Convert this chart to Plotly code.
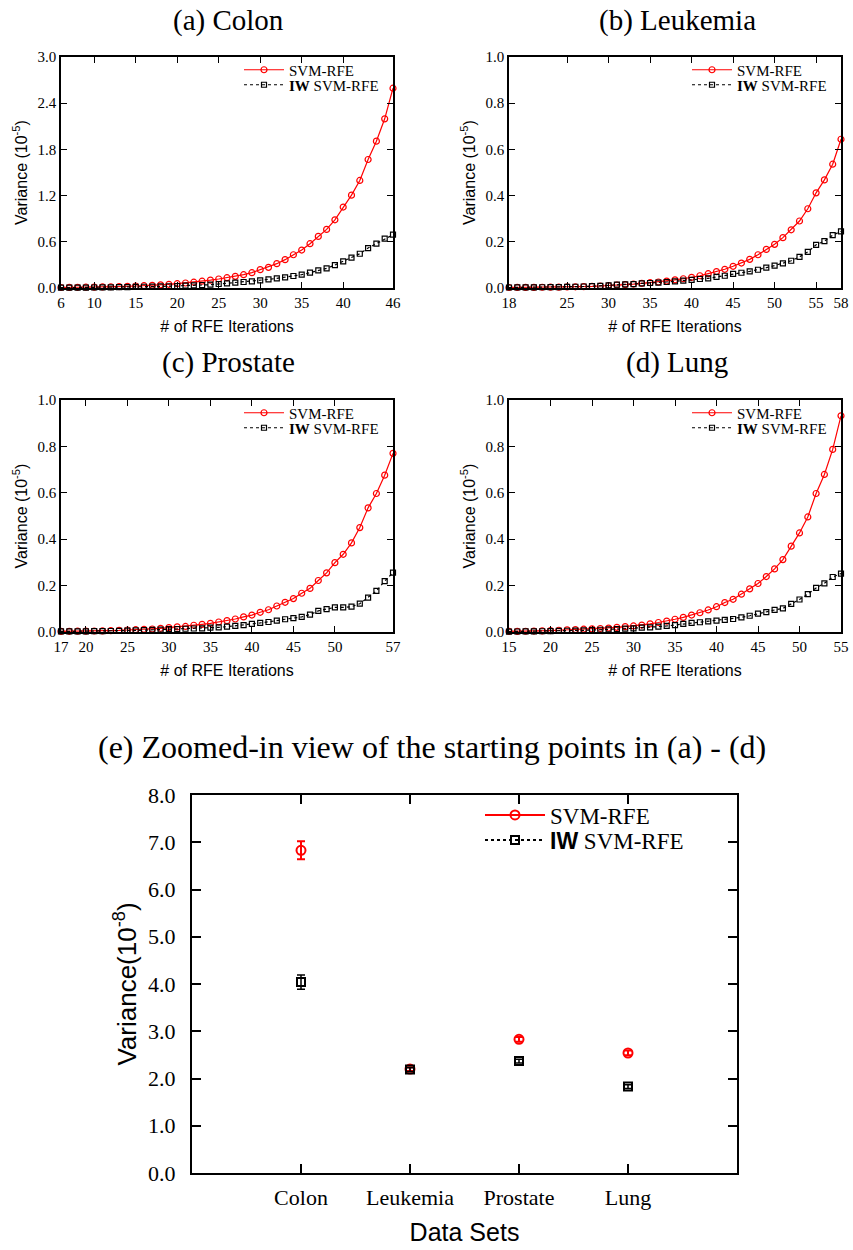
import plotly.graph_objects as go

# ---------------- data (variance, units of 1e-5) ----------------
colon_iter = list(range(6, 47))
colon_svm = [0.0068, 0.0078, 0.0090, 0.0105, 0.012, 0.014, 0.016, 0.019, 0.022, 0.026,
             0.030, 0.035, 0.041, 0.048, 0.056, 0.065, 0.075, 0.088, 0.102, 0.117,
             0.134, 0.151, 0.173, 0.199, 0.238, 0.268, 0.316, 0.368, 0.432, 0.493,
             0.575, 0.670, 0.761, 0.886, 1.051, 1.206, 1.397, 1.669, 1.907, 2.197, 2.595]
colon_iw = [0.0041, 0.0046, 0.0052, 0.0060, 0.0068, 0.0078, 0.0090, 0.0104, 0.012, 0.014,
            0.016, 0.018, 0.020, 0.023, 0.026, 0.030, 0.034, 0.039, 0.043, 0.052,
            0.061, 0.069, 0.078, 0.086, 0.099, 0.112, 0.125, 0.138, 0.156, 0.173,
            0.199, 0.229, 0.255, 0.298, 0.346, 0.394, 0.445, 0.519, 0.575, 0.640, 0.692]
colon_ticks = [6, 10, 15, 20, 25, 30, 35, 40, 46]

leuk_iter = list(range(18, 59))
leuk_svm = [0.0022, 0.0024, 0.0026, 0.0029, 0.0032, 0.0036, 0.0040, 0.0045, 0.0051, 0.0058,
            0.0072, 0.0086, 0.010, 0.013, 0.0144, 0.017, 0.020, 0.023, 0.026, 0.030,
            0.035, 0.040, 0.046, 0.053, 0.062, 0.071, 0.081, 0.094, 0.108, 0.124,
            0.144, 0.167, 0.189, 0.218, 0.252, 0.290, 0.343, 0.412, 0.468, 0.536, 0.644]
leuk_iw = [0.0022, 0.0024, 0.0026, 0.0029, 0.0032, 0.0036, 0.0041, 0.0047, 0.0055, 0.0064,
           0.0077, 0.0095, 0.0115, 0.0144, 0.016, 0.017, 0.020, 0.0216, 0.023, 0.026,
           0.029, 0.032, 0.035, 0.039, 0.042, 0.048, 0.053, 0.061, 0.066, 0.072,
           0.079, 0.088, 0.097, 0.107, 0.118, 0.135, 0.156, 0.187, 0.203, 0.229, 0.245]
leuk_ticks = [18, 25, 30, 35, 40, 45, 50, 55, 58]

prost_iter = list(range(17, 58))
prost_svm = [0.0028, 0.0031, 0.0034, 0.0038, 0.0043, 0.0050, 0.0058, 0.0072, 0.0086, 0.010,
             0.0115, 0.013, 0.016, 0.019, 0.022, 0.024, 0.029, 0.033, 0.037, 0.043,
             0.049, 0.056, 0.065, 0.073, 0.085, 0.096, 0.112, 0.128, 0.144, 0.167,
             0.188, 0.222, 0.255, 0.299, 0.335, 0.384, 0.450, 0.535, 0.597, 0.676, 0.770]
prost_iw = [0.0024, 0.0026, 0.0028, 0.0031, 0.0034, 0.0038, 0.0043, 0.0050, 0.0058, 0.0068,
            0.0080, 0.0092, 0.0105, 0.012, 0.013, 0.014, 0.015, 0.016, 0.019, 0.020,
            0.023, 0.026, 0.030, 0.035, 0.039, 0.043, 0.049, 0.055, 0.060, 0.065,
            0.075, 0.091, 0.099, 0.106, 0.106, 0.109, 0.122, 0.148, 0.177, 0.219, 0.256]
prost_ticks = [17, 20, 25, 30, 35, 40, 45, 50, 57]

lung_iter = list(range(15, 56))
lung_svm = [0.00255, 0.0028, 0.0032, 0.0040, 0.0050, 0.0062, 0.0075, 0.0090, 0.0105, 0.012,
            0.0135, 0.015, 0.017, 0.020, 0.023, 0.026, 0.030, 0.035, 0.041, 0.047,
            0.055, 0.063, 0.073, 0.083, 0.095, 0.109, 0.127, 0.141, 0.163, 0.186,
            0.209, 0.239, 0.272, 0.312, 0.370, 0.427, 0.496, 0.597, 0.679, 0.787, 0.932]
lung_iw = [0.00185, 0.0021, 0.0024, 0.0028, 0.0033, 0.0039, 0.0046, 0.0054, 0.0063, 0.0073,
           0.0084, 0.0096, 0.011, 0.0125, 0.0144, 0.016, 0.019, 0.020, 0.023, 0.026,
           0.030, 0.035, 0.039, 0.042, 0.046, 0.049, 0.052, 0.056, 0.063, 0.070,
           0.079, 0.086, 0.095, 0.102, 0.121, 0.140, 0.163, 0.190, 0.210, 0.237, 0.252]
lung_ticks = [15, 20, 25, 30, 35, 40, 45, 50, 55]

# starting points (units of 1e-8)
datasets = ["Colon", "Leukemia", "Prostate", "Lung"]
svm_start = [6.83, 2.20, 2.83, 2.54]
svm_start_err = [0.19, 0.04, 0.05, 0.05]
iw_start = [4.04, 2.19, 2.37, 1.83]
iw_start_err = [0.15, 0.04, 0.04, 0.04]

# ---------------- layout helpers ----------------
FW, FH = 853, 1250
SERIF = "Liberation Serif"
SANS = "Liberation Sans"
RED = "#ff0000"


def fx(p):
    return p / FW


def fy(p):
    return 1 - p / FH


panels = [
    dict(title="(a) Colon", x=colon_iter, svm=colon_svm, iw=colon_iw, ticks=colon_ticks,
         ymax=3.0, dtick=0.6, left=61, right=393, top=57, bottom=288),
    dict(title="(b) Leukemia", x=leuk_iter, svm=leuk_svm, iw=leuk_iw, ticks=leuk_ticks,
         ymax=1.0, dtick=0.2, left=509, right=841, top=57, bottom=288),
    dict(title="(c) Prostate", x=prost_iter, svm=prost_svm, iw=prost_iw, ticks=prost_ticks,
         ymax=1.0, dtick=0.2, left=61, right=393, top=400, bottom=632),
    dict(title="(d) Lung", x=lung_iter, svm=lung_svm, iw=lung_iw, ticks=lung_ticks,
         ymax=1.0, dtick=0.2, left=509, right=841, top=400, bottom=632),
]

fig = go.Figure()
layout = {}
annotations = []

for i, p in enumerate(panels):
    s = "" if i == 0 else str(i + 1)
    leg_a = "legend" if i == 0 else f"legend{2 * i + 1}"
    leg_b = f"legend{2 * i + 2}"
    fig.add_trace(go.Scatter(
        x=p["x"], y=p["svm"], name="SVM-RFE", mode="lines+markers",
        line=dict(color=RED, width=1.2),
        marker=dict(symbol="circle-open", size=6, color=RED, line=dict(width=1.2)),
        xaxis="x" + s, yaxis="y" + s, legend=leg_a, cliponaxis=False))
    fig.add_trace(go.Scatter(
        x=p["x"], y=p["iw"], name="<b>IW</b> SVM-RFE", mode="lines+markers",
        line=dict(color="black", width=1.2, dash="dot"),
        marker=dict(symbol="square-open", size=5, color="black", line=dict(width=1.2)),
        xaxis="x" + s, yaxis="y" + s, legend=leg_b, cliponaxis=False))

    axis_common = dict(showline=True, linecolor="black", linewidth=1.5, mirror="ticks",
                       ticks="inside", ticklen=6, tickwidth=1, tickcolor="black",
                       showgrid=False, zeroline=False, automargin=False,
                       tickfont=dict(family=SERIF, size=15, color="black"))
    layout["xaxis" + s] = dict(
        axis_common, domain=[fx(p["left"]), fx(p["right"])], anchor="y" + s,
        range=[p["x"][0], p["x"][-1]], tickmode="array", tickvals=p["ticks"],
        title=dict(text="# of RFE Iterations", font=dict(family=SANS, size=16, color="black"),
                   standoff=11))
    layout["yaxis" + s] = dict(
        axis_common, domain=[fy(p["bottom"]), fy(p["top"])], anchor="x" + s,
        range=[0, p["ymax"]], tickmode="linear", tick0=0, dtick=p["dtick"], tickformat=".1f",
        title=dict(text="Variance (10<sup>-5</sup>)", font=dict(family=SANS, size=16, color="black"),
                   standoff=6))
    lx = fx(p["left"] + 178)
    layout[leg_a] = dict(x=lx, y=fy(p["top"] + 13), xanchor="left", yanchor="middle",
                         bgcolor="rgba(0,0,0,0)", itemwidth=40,
                         font=dict(family=SERIF, size=15, color="black"))
    layout[leg_b] = dict(x=lx, y=fy(p["top"] + 28), xanchor="left", yanchor="middle",
                         bgcolor="rgba(0,0,0,0)", itemwidth=40,
                         font=dict(family=SERIF, size=15, color="black"))
    annotations.append(dict(text=p["title"], x=fx((p["left"] + p["right"]) / 2 + 2),
                            y=fy(max(p["top"] - 38, 20)), xref="paper", yref="paper",
                            showarrow=False, xanchor="center", yanchor="middle",
                            font=dict(family=SERIF, size=29, color="black")))

# ---------------- (e) starting points ----------------
for j, cat in enumerate(datasets):
    fig.add_trace(go.Scatter(
        x=[cat], y=[svm_start[j]], name="SVM-RFE", mode="lines+markers",
        line=dict(color=RED, width=2),
        marker=dict(symbol="circle-open", size=9, color=RED, line=dict(width=2)),
        error_y=dict(type="data", array=[svm_start_err[j]], color=RED, thickness=2, width=4),
        xaxis="x5", yaxis="y5", legend="legend9", legendgroup="svm", showlegend=(j == 0)))
for j, cat in enumerate(datasets):
    fig.add_trace(go.Scatter(
        x=[cat], y=[iw_start[j]],
        name="<b><span style='font-family:Liberation Sans'>IW</span></b> SVM-RFE",
        mode="lines+markers", line=dict(color="black", width=2, dash="dot"),
        marker=dict(symbol="square-open", size=8, color="black", line=dict(width=2)),
        error_y=dict(type="data", array=[iw_start_err[j]], color="black", thickness=1.5, width=4),
        xaxis="x5", yaxis="y5", legend="legend10", legendgroup="iw", showlegend=(j == 0)))

axis_e = dict(showline=True, linecolor="black", linewidth=2, mirror="ticks",
              ticks="inside", ticklen=9, tickwidth=1.5, tickcolor="black",
              showgrid=False, zeroline=False, automargin=False,
              tickfont=dict(family=SERIF, size=22, color="black"))
layout["xaxis5"] = dict(axis_e, domain=[fx(192), fx(737)], anchor="y5", type="category",
                        categoryorder="array", categoryarray=datasets, range=[-1, 4],
                        ticklabelstandoff=4,
                        title=dict(text="Data Sets", font=dict(family=SANS, size=25, color="black"),
                                   standoff=14))
layout["yaxis5"] = dict(axis_e, domain=[fy(1173), fy(795)], anchor="x5", range=[0, 8],
                        tickmode="linear", tick0=0, dtick=1, tickformat=".1f",
                        ticklabelstandoff=10,
                        title=dict(text="Variance(10<sup>-8</sup>)",
                                   font=dict(family=SANS, size=26, color="black"), standoff=4))
layout["legend9"] = dict(x=fx(480), y=fy(815), xanchor="left", yanchor="middle",
                         bgcolor="rgba(0,0,0,0)", itemwidth=60,
                         font=dict(family=SERIF, size=23, color="black"))
layout["legend10"] = dict(x=fx(480), y=fy(840), xanchor="left", yanchor="middle",
                          bgcolor="rgba(0,0,0,0)", itemwidth=60,
                          font=dict(family=SERIF, size=23, color="black"))
annotations.append(dict(text="(e) Zoomed-in view of the starting points in (a) - (d)",
                        x=fx(432), y=fy(747), xref="paper", yref="paper", showarrow=False,
                        xanchor="center", yanchor="middle",
                        font=dict(family=SERIF, size=32, color="black")))

fig.update_layout(**layout)
fig.update_layout(width=FW, height=FH, margin=dict(l=0, r=0, t=0, b=0),
                  paper_bgcolor="white", plot_bgcolor="white", template="none",
                  annotations=annotations, showlegend=True)

fig.write_html("out.html", config={"displayModeBar": False},
               post_script="document.body.style.margin='0px';")
